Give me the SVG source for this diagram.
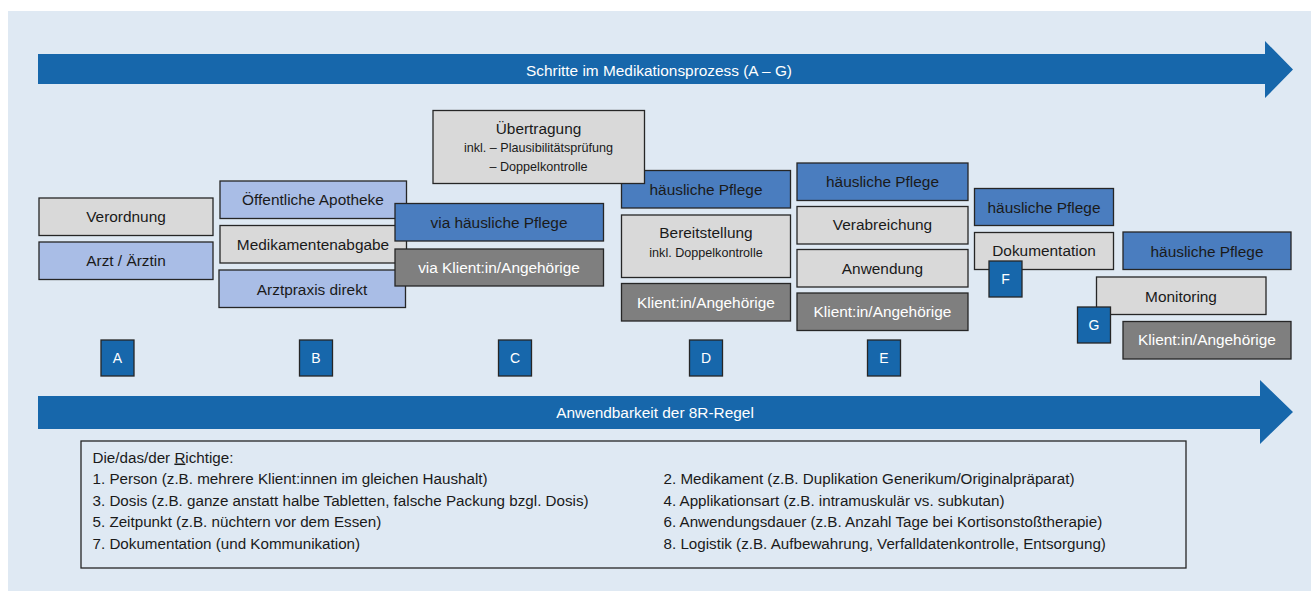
<svg xmlns="http://www.w3.org/2000/svg" width="1311" height="591" viewBox="0 0 1311 591">
<style>
text{font-family:"Liberation Sans",Arial,sans-serif;}
.b rect{stroke:#262626;stroke-width:1.3;}
.gray{fill:#d9d9d9;}
.lb{fill:#a9bde6;}
.mb{fill:#4a7dbf;}
.dg{fill:#7f7f7f;}
.db{fill:#1767ab;}
.t{font-size:15.4px;fill:#1a1a1a;text-anchor:middle;}
.tw{font-size:15.4px;fill:#ffffff;text-anchor:middle;}
.ts{font-size:12.6px;fill:#1a1a1a;text-anchor:middle;}
.lab{font-size:14px;fill:#ffffff;text-anchor:middle;}
.arrowtxt{font-size:15.4px;fill:#ffffff;text-anchor:middle;}
.list{font-size:15.2px;fill:#1a1a1a;}
</style>
<rect x="8" y="11" width="1303" height="580" fill="#dfe9f3"/>
<g id="connectors">
<path id="arrow-top" d="M38,54 H1265 V41 L1293,69.5 L1265,98 V84 H38 Z" fill="#1767ab"/>
<path id="arrow-bottom" d="M38,396 H1260 V380 L1293,412 L1260,444 V429 H38 Z" fill="#1767ab"/>
</g>
<text class="arrowtxt" x="659" y="75.5">Schritte im Medikationsprozess (A – G)</text>
<text class="arrowtxt" x="655" y="418">Anwendbarkeit der 8R-Regel</text>

<g id="stepA" class="b">
<rect class="gray" x="39" y="198" width="174" height="37.5"/>
<text class="t" x="126" y="222">Verordnung</text>
<rect class="lb" x="39" y="242" width="174" height="37.5"/>
<text class="t" x="126" y="266">Arzt / Ärztin</text>
</g>

<g id="stepB" class="b">
<rect class="lb" x="220" y="181" width="186.5" height="37.5"/>
<text class="t" x="313" y="205">Öffentliche Apotheke</text>
<rect class="gray" x="220" y="225.5" width="186.5" height="37.5"/>
<text class="t" x="313" y="249.5">Medikamentenabgabe</text>
<rect class="lb" x="219" y="270" width="186.5" height="37.5"/>
<text class="t" x="312" y="294.5">Arztpraxis direkt</text>
</g>

<g id="stepC" class="b">
<rect class="mb" x="395" y="203.5" width="208.5" height="37.5"/>
<text class="t" x="499" y="227.5">via häusliche Pflege</text>
<rect class="dg" x="395" y="249" width="208.5" height="37"/>
<text class="tw" x="499" y="273">via Klient:in/Angehörige</text>
</g>

<g id="stepD" class="b">
<rect class="mb" x="621.5" y="170.5" width="169" height="37.5"/>
<text class="t" x="706" y="195">häusliche Pflege</text>
<rect class="gray" x="621.5" y="215" width="169" height="62.5"/>
<text class="t" x="706" y="237.5">Bereitstellung</text>
<text class="ts" x="706" y="257">inkl. Doppelkontrolle</text>
<rect class="dg" x="621.5" y="283.5" width="169" height="37.5"/>
<text class="tw" x="706" y="307.5">Klient:in/Angehörige</text>
</g>

<g id="transfer" class="b">
<rect class="gray" x="433" y="110.5" width="211.5" height="73"/>
<text class="t" x="538.5" y="134">Übertragung</text>
<text class="ts" x="538.5" y="152">inkl. – Plausibilitätsprüfung</text>
<text class="ts" x="538.5" y="171">– Doppelkontrolle</text>
</g>

<g id="stepE" class="b">
<rect class="mb" x="797" y="163" width="171" height="37.5"/>
<text class="t" x="882.5" y="187">häusliche Pflege</text>
<rect class="gray" x="797" y="206.5" width="171" height="37.5"/>
<text class="t" x="882.5" y="230">Verabreichung</text>
<rect class="gray" x="797" y="249.5" width="171" height="37.5"/>
<text class="t" x="882.5" y="273.5">Anwendung</text>
<rect class="dg" x="797" y="293" width="171" height="37.5"/>
<text class="tw" x="882.5" y="317">Klient:in/Angehörige</text>
</g>

<g id="stepF" class="b">
<rect class="mb" x="974.5" y="188.5" width="139" height="37"/>
<text class="t" x="1044" y="212.5">häusliche Pflege</text>
<rect class="gray" x="974.5" y="232.5" width="139" height="37"/>
<text class="t" x="1044" y="256">Dokumentation</text>
</g>

<g id="stepG" class="b">
<rect class="mb" x="1123" y="232" width="168" height="37.5"/>
<text class="t" x="1207" y="257">häusliche Pflege</text>
<rect class="gray" x="1096.5" y="277" width="169.5" height="37.5"/>
<text class="t" x="1181" y="301.5">Monitoring</text>
<rect class="dg" x="1123" y="321.5" width="168" height="37.5"/>
<text class="tw" x="1207" y="345">Klient:in/Angehörige</text>
</g>

<g id="labelA" class="b"><rect class="db" x="101" y="340" width="33" height="36"/><text class="lab" x="117.5" y="363">A</text></g>
<g id="labelB" class="b"><rect class="db" x="299.5" y="340" width="33" height="36"/><text class="lab" x="316" y="363">B</text></g>
<g id="labelC" class="b"><rect class="db" x="498.5" y="340" width="33" height="36"/><text class="lab" x="515" y="363">C</text></g>
<g id="labelD" class="b"><rect class="db" x="689.5" y="340" width="33" height="36"/><text class="lab" x="706" y="363">D</text></g>
<g id="labelE" class="b"><rect class="db" x="867.5" y="340" width="33" height="36"/><text class="lab" x="884" y="363">E</text></g>
<g id="labelF" class="b"><rect class="db" x="989" y="261" width="33" height="36"/><text class="lab" x="1005.5" y="284">F</text></g>
<g id="labelG" class="b"><rect class="db" x="1077.5" y="307" width="33" height="36"/><text class="lab" x="1094" y="330">G</text></g>

<g id="rules">
<rect x="81" y="441" width="1105" height="127" fill="none" stroke="#262626" stroke-width="1.3"/>
<text class="list" x="92.5" y="462.5">Die/das/der <tspan text-decoration="underline">R</tspan>ichtige:</text>
<text class="list" x="92.5" y="484">1. Person (z.B. mehrere Klient:innen im gleichen Haushalt)</text>
<text class="list" x="92.5" y="505.5">3. Dosis (z.B. ganze anstatt halbe Tabletten, falsche Packung bzgl. Dosis)</text>
<text class="list" x="92.5" y="527">5. Zeitpunkt (z.B. nüchtern vor dem Essen)</text>
<text class="list" x="92.5" y="548.5">7. Dokumentation (und Kommunikation)</text>
<text class="list" x="663.5" y="484">2. Medikament (z.B. Duplikation Generikum/Originalpräparat)</text>
<text class="list" x="663.5" y="505.5">4. Applikationsart (z.B. intramuskulär vs. subkutan)</text>
<text class="list" x="663.5" y="527">6. Anwendungsdauer (z.B. Anzahl Tage bei Kortisonstoßtherapie)</text>
<text class="list" x="663.5" y="548.5">8. Logistik (z.B. Aufbewahrung, Verfalldatenkontrolle, Entsorgung)</text>
</g>
</svg>
